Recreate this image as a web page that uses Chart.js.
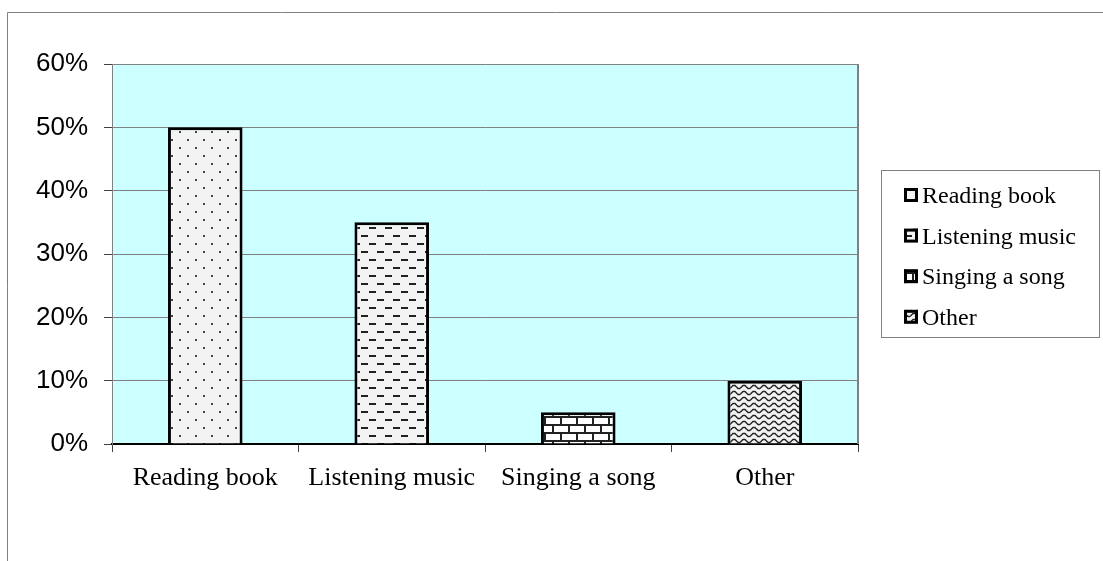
<!DOCTYPE html>
<html>
<head>
<meta charset="utf-8">
<title>Leisure activities</title>
<script src="https://cdn.jsdelivr.net/npm/chart.js@4.4.1/dist/chart.umd.min.js"></script>
<style>
  body { margin: 0; background: #fff; }
  canvas { display: block; }
</style>
</head>
<body>
<canvas id="myChart" width="1103" height="561"></canvas>
<script>
// data
var categories = ['Reading book', 'Listening music', 'Singing a song', 'Other'];
var shares = [0.50, 0.35, 0.05, 0.10];
var yTicks = [0, 0.1, 0.2, 0.3, 0.4, 0.5, 0.6];

// fill patterns, one per bar (dots, dashes, bricks, waves)
function makePattern(kind) {
  var c = document.createElement('canvas');
  c.width = kind === 'wave' ? 10 : 16;
  c.height = kind === 'wave' ? 6 : 16;
  var g = c.getContext('2d');
  g.fillStyle = '#f3f3f3';
  g.fillRect(0, 0, c.width, c.height);
  g.fillStyle = '#222';
  g.strokeStyle = '#222';
  if (kind === 'dots') {
    g.fillStyle = '#444';
    g.fillRect(3, 3, 2, 2);
    g.fillRect(11, 11, 2, 2);
  } else if (kind === 'dash') {
    g.fillRect(1, 3, 7, 2);
    g.fillRect(9, 11, 7, 2);
  } else if (kind === 'brick') {
    g.fillStyle = '#fff';
    g.fillRect(0, 0, 16, 16);
    g.fillStyle = '#222';
    g.fillRect(0, 0, 16, 2);
    g.fillRect(0, 8, 16, 2);
    g.fillRect(0, 0, 2, 8);
    g.fillRect(8, 8, 2, 8);
  } else if (kind === 'wave') {
    g.lineWidth = 1.3;
    g.beginPath();
    g.moveTo(0, 4.5);
    g.lineTo(3, 1.5);
    g.lineTo(5, 1.5);
    g.lineTo(8, 4.5);
    g.lineTo(10, 4.5);
    g.stroke();
  }
  return g.createPattern(c, 'repeat');
}

var ctx0 = document.getElementById('myChart').getContext('2d');
var patterns = [makePattern('dots'), makePattern('dash'), makePattern('brick'), makePattern('wave')];

// cyan plot area + right border, outer frame
var plotBg = {
  id: 'plotBg',
  beforeDraw: function(chart) {
    var a = chart.chartArea, ctx = chart.ctx;
    ctx.save();
    ctx.fillStyle = '#ccffff';
    ctx.fillRect(a.left, a.top, a.right - a.left, a.bottom - a.top);
    ctx.strokeStyle = '#808080';
    ctx.lineWidth = 1;
    ctx.beginPath();
    ctx.moveTo(7.5, chart.height);
    ctx.lineTo(7.5, 12.5);
    ctx.lineTo(chart.width, 12.5);
    ctx.stroke();
    ctx.restore();
  },
  afterDatasetsDraw: function(chart) {
    var a = chart.chartArea, ctx = chart.ctx;
    ctx.save();
    ctx.strokeStyle = '#808080';
    ctx.lineWidth = 2;
    ctx.beginPath();
    ctx.moveTo(a.right, a.top);
    ctx.lineTo(a.right, a.bottom);
    ctx.stroke();
    ctx.restore();
  }
};

// boxed legend on the right
var boxLegend = {
  id: 'boxLegend',
  afterDraw: function(chart) {
    var ctx = chart.ctx;
    ctx.save();
    ctx.strokeStyle = '#808080';
    ctx.lineWidth = 1;
    ctx.strokeRect(881.5, 170.5, 218, 167);
    ctx.font = '24px "Liberation Serif", "Times New Roman", serif';
    ctx.textBaseline = 'middle';
    for (var i = 0; i < categories.length; i++) {
      var y = 197 + i * 40.6;
      ctx.fillStyle = patterns[i];
      ctx.fillRect(904, y - 9, 14, 14);
      ctx.strokeStyle = '#000';
      ctx.lineWidth = 3;
      ctx.strokeRect(905.5, y - 7.5, 11, 11);
      ctx.fillStyle = '#000';
      ctx.fillText(categories[i], 922, y);
    }
    ctx.restore();
  }
};

var myChart = new Chart(ctx0, {
  type: 'bar',
  data: {
    labels: categories,
    datasets: [{
      data: shares,
      backgroundColor: patterns,
      borderColor: '#000',
      borderWidth: 3,
      barPercentage: 0.4,
      categoryPercentage: 1
    }]
  },
  options: {
    responsive: false,
    animation: false,
    layout: { padding: { left: 0, top: 64, right: 245, bottom: 57 } },
    plugins: {
      legend: { display: false },
      tooltip: { enabled: false }
    },
    scales: {
      x: {
        offset: true,
        grid: {
          display: true,
          drawOnChartArea: false,
          offset: true,
          tickLength: 8,
          color: '#404040'
        },
        border: { color: '#000', width: 2 },
        ticks: {
          color: '#000',
          padding: 11,
          maxRotation: 0,
          font: { family: '"Liberation Serif", "Times New Roman", serif', size: 26 }
        },
        afterFit: function(scale) { scale.height = 60; }
      },
      y: {
        min: 0,
        max: 0.6,
        afterBuildTicks: function(scale) {
          scale.ticks = yTicks.map(function(v) { return { value: v }; });
        },
        grid: { color: '#808080', tickLength: 8, tickColor: '#404040' },
        border: { color: '#808080', width: 1 },
        ticks: {
          color: '#000',
          padding: 16,
          font: { family: '"Liberation Sans", Arial, sans-serif', size: 26 },
          callback: function(v) { return Math.round(v * 100) + '%'; }
        },
        afterFit: function(scale) { scale.width = 112; }
      }
    }
  },
  plugins: [plotBg, boxLegend]
});
</script>
</body>
</html>
